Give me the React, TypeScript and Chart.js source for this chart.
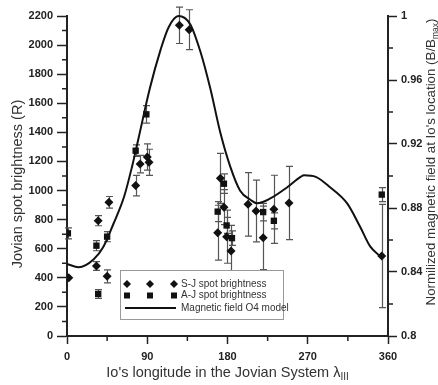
import React, { useEffect, useRef } from "react";
import { Chart, registerables } from "chart.js";

Chart.register(...registerables);

// S-J spot brightness (diamonds)
const sjLon = [2, 33, 35, 45, 47, 77, 82, 90, 92, 126, 137, 169, 172, 176, 179, 184, 203, 212, 220, 232, 249, 353];
const sjVal = [400, 481, 793, 410, 919, 1034, 1182, 1231, 1194, 2136, 2106, 710, 1084, 886, 683, 584, 905, 859, 675, 871, 914, 550];
const sjErr = [0, 30, 35, 45, 40, 70, 60, 90, 90, 125, 137, 189, 172, 120, 183, 177, 218, 212, 218, 234, 252, 355];

// A-J spot brightness (squares)
const ajLon = [1, 33, 35, 45, 77, 89, 169, 176, 179, 185, 220, 232, 353];
const ajVal = [706, 621, 289, 683, 1274, 1524, 855, 1047, 760, 673, 852, 792, 972];
const ajErr = [38, 35, 30, 35, 40, 60, 69, 67, 55, 50, 60, 55, 48];

// Magnetic field O4 model (right axis)
const magLon = [0, 13, 30, 41, 52, 64, 73, 80, 93, 105, 114, 125, 138, 150, 161, 172, 183, 194, 206, 213, 228, 247, 262, 266, 279, 295, 314, 329, 340, 351];
const magVal = [0.845, 0.843, 0.848, 0.856, 0.870, 0.887, 0.906, 0.923, 0.955, 0.979, 0.993, 1.0, 0.995, 0.977, 0.954, 0.927, 0.906, 0.891, 0.885, 0.883, 0.886, 0.893, 0.8995, 0.9005, 0.8995, 0.893, 0.883, 0.868, 0.856, 0.85];

const xTicks = [0, 90, 180, 270, 360];

const FONT = "'Liberation Sans', Arial, sans-serif";
const INK = "#222";

function drawSubText(ctx: CanvasRenderingContext2D, parts: { t: string; sub?: boolean }[], size: number, subSize: number) {
  let total = 0;
  const widths = parts.map((p) => {
    ctx.font = `${p.sub ? subSize : size}px ${FONT}`;
    const w = ctx.measureText(p.t).width;
    total += w;
    return w;
  });
  let x = -total / 2;
  parts.forEach((p, i) => {
    ctx.font = `${p.sub ? subSize : size}px ${FONT}`;
    ctx.textAlign = "left";
    ctx.textBaseline = "alphabetic";
    ctx.fillText(p.t, x, p.sub ? size * 0.35 + 3 : size * 0.35);
    x += widths[i];
  });
}

const extrasPlugin = {
  id: "extras",
  beforeDatasetsDraw(chart: any) {
    const ctx = chart.ctx as CanvasRenderingContext2D;
    const xs = chart.scales.x;
    const ys = chart.scales.y;
    ctx.save();
    ctx.strokeStyle = "#555";
    ctx.lineWidth = 1.2;
    const drawBars = (lon: number[], val: number[], err: number[]) => {
      lon.forEach((l, i) => {
        if (!err[i]) return;
        const px = Math.round(xs.getPixelForValue(l)) + 0.5;
        const t = ys.getPixelForValue(val[i] + err[i]);
        const b = ys.getPixelForValue(val[i] - err[i]);
        ctx.beginPath();
        ctx.moveTo(px, t);
        ctx.lineTo(px, b);
        ctx.moveTo(px - 3.5, t);
        ctx.lineTo(px + 3.5, t);
        ctx.moveTo(px - 3.5, b);
        ctx.lineTo(px + 3.5, b);
        ctx.stroke();
      });
    };
    drawBars(sjLon, sjVal, sjErr);
    drawBars(ajLon, ajVal, ajErr);
    ctx.restore();
  },
  afterDraw(chart: any) {
    const ctx = chart.ctx as CanvasRenderingContext2D;
    const xs = chart.scales.x;
    const ys = chart.scales.y;
    const y2 = chart.scales.y2;
    const area = chart.chartArea;
    ctx.save();
    // minor ticks
    ctx.strokeStyle = INK;
    ctx.lineWidth = 1.5;
    ctx.beginPath();
    for (let v = 45; v < 360; v += 90) {
      const px = xs.getPixelForValue(v);
      ctx.moveTo(px, area.bottom);
      ctx.lineTo(px, area.bottom + 5);
    }
    for (let v = 100; v < 2200; v += 200) {
      const py = ys.getPixelForValue(v);
      ctx.moveTo(area.left, py);
      ctx.lineTo(area.left - 5, py);
    }
    for (let v = 0.82; v < 1; v += 0.04) {
      const py = y2.getPixelForValue(v);
      ctx.moveTo(area.right, py);
      ctx.lineTo(area.right + 5, py);
    }
    ctx.stroke();

    // axis titles
    ctx.fillStyle = "#333";
    ctx.save();
    ctx.translate(17, 184);
    ctx.rotate(-Math.PI / 2);
    drawSubText(ctx, [{ t: "Jovian spot brightness (R)" }], 14.5, 10);
    ctx.restore();

    ctx.save();
    ctx.translate(430, 162);
    ctx.rotate(-Math.PI / 2);
    drawSubText(ctx, [{ t: "Normilized magnetic field at Io's location (B/B" }, { t: "max", sub: true }, { t: ")" }], 13.3, 8.5);
    ctx.restore();

    ctx.save();
    ctx.translate((area.left + area.right) / 2, 372);
    drawSubText(ctx, [{ t: "Io's longitude in the Jovian System λ" }, { t: "III", sub: true }], 14.5, 10);
    ctx.restore();

    // legend
    const lx = 120, ly = 270, lw = 163, lh = 49;
    ctx.fillStyle = "#fff";
    ctx.fillRect(lx, ly, lw, lh);
    ctx.strokeStyle = "#999";
    ctx.lineWidth = 1;
    ctx.strokeRect(lx + 0.5, ly + 0.5, lw, lh);
    ctx.fillStyle = "#111";
    const mx = [127, 150, 174];
    const r1 = 284, r2 = 295.5, r3 = 308;
    mx.forEach((x) => {
      ctx.beginPath();
      ctx.moveTo(x, r1 - 4);
      ctx.lineTo(x + 4, r1);
      ctx.lineTo(x, r1 + 4);
      ctx.lineTo(x - 4, r1);
      ctx.closePath();
      ctx.fill();
      ctx.fillRect(x - 3, r2 - 3, 6, 6);
    });
    ctx.strokeStyle = "#111";
    ctx.lineWidth = 2;
    ctx.beginPath();
    ctx.moveTo(125, r3);
    ctx.lineTo(176, r3);
    ctx.stroke();
    ctx.fillStyle = "#333";
    ctx.font = `10px ${FONT}`;
    ctx.textAlign = "left";
    ctx.textBaseline = "middle";
    ctx.fillText("S-J spot brightness", 181, r1);
    ctx.fillText("A-J spot brightness", 181, r2);
    ctx.fillText("Magnetic field O4 model", 181, r3);
    ctx.restore();
  },
};

export default function App() {
  const ref = useRef<HTMLCanvasElement | null>(null);
  useEffect(() => {
    if (!ref.current) return;
    const chart = new Chart(ref.current, {
      type: "scatter",
      data: {
        datasets: [
          {
            label: "S-J spot brightness",
            data: sjLon.map((x, i) => ({ x, y: sjVal[i] })),
            pointStyle: "rectRot",
            pointRadius: 4.5,
            backgroundColor: "#111",
            borderColor: "#111",
            borderWidth: 0,
            yAxisID: "y",
          },
          {
            label: "A-J spot brightness",
            data: ajLon.map((x, i) => ({ x, y: ajVal[i] })),
            pointStyle: "rect",
            pointRadius: 4.5,
            backgroundColor: "#111",
            borderColor: "#111",
            borderWidth: 0,
            yAxisID: "y",
          },
          {
            label: "Magnetic field O4 model",
            data: magLon.map((x, i) => ({ x, y: magVal[i] })),
            showLine: true,
            pointRadius: 0,
            borderColor: "#111",
            borderWidth: 2,
            cubicInterpolationMode: "monotone",
            yAxisID: "y2",
            clip: false,
          } as any,
        ],
      },
      options: {
        animation: false,
        responsive: true,
        maintainAspectRatio: false,
        layout: { padding: { top: 16, left: 0, right: 0, bottom: 0 } },
        plugins: { legend: { display: false }, tooltip: { enabled: false } },
        scales: {
          x: {
            type: "linear",
            min: 0,
            max: 360,
            afterBuildTicks: (s: any) => {
              s.ticks = xTicks.map((v) => ({ value: v }));
            },
            ticks: {
              color: INK,
              font: { family: FONT, size: 11, weight: "bold" },
              padding: 6,
              callback: (v: any) => String(v),
            },
            grid: { drawOnChartArea: false, drawTicks: true, tickLength: 8, tickColor: INK, tickWidth: 1.5 },
            border: { display: true, color: INK, width: 2 },
            afterFit: (s: any) => {
              s.height = 49;
            },
          },
          y: {
            type: "linear",
            position: "left",
            min: 0,
            max: 2200,
            ticks: {
              stepSize: 200,
              color: INK,
              font: { family: FONT, size: 11, weight: "bold" },
              padding: 4,
              callback: (v: any) => String(Math.round(Number(v))),
            },
            grid: { drawOnChartArea: false, drawTicks: true, tickLength: 10, tickColor: INK, tickWidth: 1.5 },
            border: { display: true, color: INK, width: 2 },
            afterFit: (s: any) => {
              s.width = 67;
            },
          },
          y2: {
            type: "linear",
            position: "right",
            min: 0.8,
            max: 1.0,
            ticks: {
              stepSize: 0.04,
              color: INK,
              font: { family: FONT, size: 11, weight: "bold" },
              padding: 4,
              callback: (v: any) => String(+Number(v).toFixed(2)),
            },
            grid: { drawOnChartArea: false, drawTicks: true, tickLength: 9, tickColor: INK, tickWidth: 1.5 },
            border: { display: true, color: INK, width: 2 },
            afterFit: (s: any) => {
              s.width = 50;
            },
          },
        },
      },
      plugins: [extrasPlugin],
    });
    return () => chart.destroy();
  }, []);
  return (
    <div style={{ position: "fixed", left: 0, top: 0, width: 438, height: 385, background: "#fff" }}>
      <canvas ref={ref} />
    </div>
  );
}
